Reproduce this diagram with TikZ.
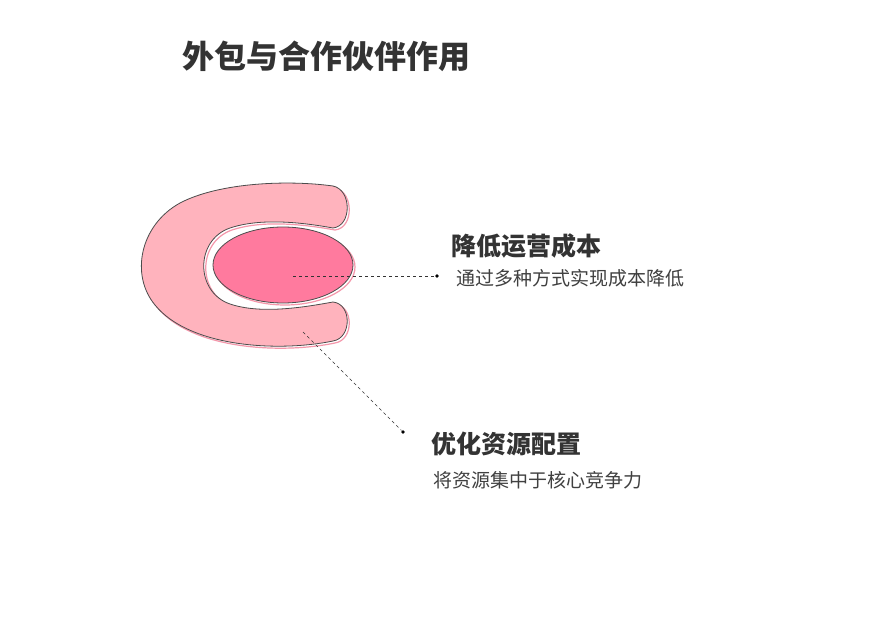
\documentclass[tikz,border=0pt]{standalone}
\usepackage{fontspec}
\setmainfont{Noto Sans CJK SC}
\definecolor{cpink}{RGB}{255,179,189}
\definecolor{epink}{RGB}{255,122,158}
\definecolor{spink}{RGB}{245,150,170}
\begin{document}
\begin{tikzpicture}[x=1pt,y=-1pt,
  outl/.style={draw=black!70,line width=0.8pt},
  shad/.style={draw=spink,line width=1.2pt},
  lead/.style={dashed,draw=black!80,line width=0.6pt},
  dotm/.style={circle,fill=black,inner sep=1.4pt},
  head/.style={font=\bfseries\fontsize{25}{27}\selectfont,text=black!80,anchor=west,inner sep=0},
  sub/.style={font=\fontsize{19}{21}\selectfont,text=black!75,anchor=west,inner sep=0}]
\fill[white] (0,0) rectangle (869,631);
\useasboundingbox (0,0) rectangle (869,631);
\def\cpath{(333,186) .. controls (352,190) and (352,226) .. (333,228)
  .. controls (300,222) and (260,218) .. (230,228)
  .. controls (195,240) and (195,292) .. (230,304)
  .. controls (260,314) and (300,308) .. (333,302)
  .. controls (352,304) and (352,338) .. (333,341)
  .. controls (280,352) and (190,348) .. (155,305)
  .. controls (130,275) and (140,225) .. (180,203)
  .. controls (220,182) and (290,180) .. (333,186) -- cycle}
\begin{scope}[shift={(2,2)}]
\draw[shad] \cpath;
\end{scope}
\fill[cpink] \cpath;
\draw[outl] \cpath;
\draw[shad] (285,267) ellipse[x radius=70,y radius=38];
\fill[epink] (283,265) ellipse[x radius=70,y radius=38];
\draw[outl] (283,265) ellipse[x radius=70,y radius=38];
\node[font=\bfseries\fontsize{32}{34}\selectfont,text=black!80,anchor=west,inner sep=0] (title) at (182,56) {外包与合作伙伴作用};
\coordinate (c1) at (293,276);
\node[dotm] (d1) at (437,276) {};
\draw[lead] (c1) -- (d1);
\node[head] (h1) at (451,246) {降低运营成本};
\node[sub] (s1) at (456,278) {通过多种方式实现成本降低};
\coordinate (c2) at (303,332);
\node[dotm] (d2) at (403,432) {};
\draw[lead] (c2) -- (d2);
\node[head] (h2) at (431,444) {优化资源配置};
\node[sub] (s2) at (433,480) {将资源集中于核心竞争力};
\end{tikzpicture}
\end{document}
